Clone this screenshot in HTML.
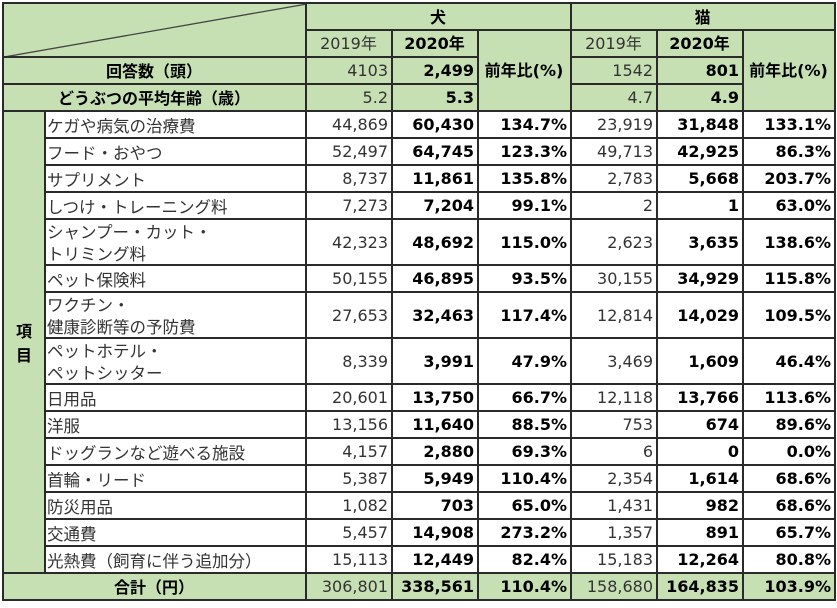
<!DOCTYPE html>
<html><head><meta charset="utf-8">
<style>
html,body{margin:0;padding:0;background:#fff;width:837px;height:608px;overflow:hidden}
table{position:absolute;left:2px;top:2px;border-collapse:collapse;table-layout:fixed;width:832px}
td{border:2px solid #2a2a2a;padding:0 3px 0 2px;font-family:"DejaVu Sans","Noto Sans CJK JP",sans-serif;font-size:16px;color:#333;text-align:right;white-space:nowrap;overflow:hidden;line-height:19px}
.g{background:#c6e0b4}
.w{background:#fff}
.b{font-weight:bold;color:#000}
.c{text-align:center}
.l{text-align:left;font-family:"Noto Sans CJK JP",sans-serif;font-size:16.5px;color:#333;padding-left:1px;line-height:22px}
.h{font-family:"Noto Sans CJK JP","DejaVu Sans",sans-serif;font-weight:bold;color:#000}
.r27{height:27px}
.r46{height:46px}
</style></head><body>
<table>
<colgroup><col style="width:42px"><col style="width:261px"><col style="width:86px"><col style="width:86px"><col style="width:93px"><col style="width:86px"><col style="width:86px"><col style="width:92px"></colgroup>
<tr class="r27"><td class="g" colspan="2" rowspan="2" style="padding:0;position:relative"><svg width="303" height="54" style="position:absolute;left:0;top:0"><line x1="0" y1="53" x2="303" y2="0" stroke="#444" stroke-width="1.3"/></svg></td><td class="g c h" colspan="3">犬</td><td class="g c h" colspan="3">猫</td></tr>
<tr class="r27"><td class="g c">2019年</td><td class="g c b">2020年</td><td class="g c b" rowspan="3">前年比(%)</td><td class="g c">2019年</td><td class="g c b">2020年</td><td class="g c b" rowspan="3">前年比(%)</td></tr>
<tr class="r27"><td class="g c h" colspan="2">回答数（頭）</td><td class="g">4103</td><td class="g b">2,499</td><td class="g">1542</td><td class="g b">801</td></tr>
<tr class="r27"><td class="g c h" colspan="2">どうぶつの平均年齢（歳）</td><td class="g">5.2</td><td class="g b">5.3</td><td class="g">4.7</td><td class="g b">4.9</td></tr>
<tr class="r27"><td class="g c h" rowspan="15" style="white-space:normal;line-height:24px;padding:0">項<br>目</td><td class="w l">ケガや病気の治療費</td><td class="w">44,869</td><td class="w b">60,430</td><td class="w b">134.7%</td><td class="w">23,919</td><td class="w b">31,848</td><td class="w b">133.1%</td></tr>
<tr class="r27"><td class="w l">フード・おやつ</td><td class="w">52,497</td><td class="w b">64,745</td><td class="w b">123.3%</td><td class="w">49,713</td><td class="w b">42,925</td><td class="w b">86.3%</td></tr>
<tr class="r27"><td class="w l">サプリメント</td><td class="w">8,737</td><td class="w b">11,861</td><td class="w b">135.8%</td><td class="w">2,783</td><td class="w b">5,668</td><td class="w b">203.7%</td></tr>
<tr class="r27"><td class="w l">しつけ・トレーニング料</td><td class="w">7,273</td><td class="w b">7,204</td><td class="w b">99.1%</td><td class="w">2</td><td class="w b">1</td><td class="w b">63.0%</td></tr>
<tr class="r46"><td class="w l">シャンプー・カット・<br>トリミング料</td><td class="w">42,323</td><td class="w b">48,692</td><td class="w b">115.0%</td><td class="w">2,623</td><td class="w b">3,635</td><td class="w b">138.6%</td></tr>
<tr class="r27"><td class="w l">ペット保険料</td><td class="w">50,155</td><td class="w b">46,895</td><td class="w b">93.5%</td><td class="w">30,155</td><td class="w b">34,929</td><td class="w b">115.8%</td></tr>
<tr class="r46"><td class="w l">ワクチン・<br>健康診断等の予防費</td><td class="w">27,653</td><td class="w b">32,463</td><td class="w b">117.4%</td><td class="w">12,814</td><td class="w b">14,029</td><td class="w b">109.5%</td></tr>
<tr class="r46"><td class="w l">ペットホテル・<br>ペットシッター</td><td class="w">8,339</td><td class="w b">3,991</td><td class="w b">47.9%</td><td class="w">3,469</td><td class="w b">1,609</td><td class="w b">46.4%</td></tr>
<tr class="r27"><td class="w l">日用品</td><td class="w">20,601</td><td class="w b">13,750</td><td class="w b">66.7%</td><td class="w">12,118</td><td class="w b">13,766</td><td class="w b">113.6%</td></tr>
<tr class="r27"><td class="w l">洋服</td><td class="w">13,156</td><td class="w b">11,640</td><td class="w b">88.5%</td><td class="w">753</td><td class="w b">674</td><td class="w b">89.6%</td></tr>
<tr class="r27"><td class="w l">ドッグランなど遊べる施設</td><td class="w">4,157</td><td class="w b">2,880</td><td class="w b">69.3%</td><td class="w">6</td><td class="w b">0</td><td class="w b">0.0%</td></tr>
<tr class="r27"><td class="w l">首輪・リード</td><td class="w">5,387</td><td class="w b">5,949</td><td class="w b">110.4%</td><td class="w">2,354</td><td class="w b">1,614</td><td class="w b">68.6%</td></tr>
<tr class="r27"><td class="w l">防災用品</td><td class="w">1,082</td><td class="w b">703</td><td class="w b">65.0%</td><td class="w">1,431</td><td class="w b">982</td><td class="w b">68.6%</td></tr>
<tr class="r27"><td class="w l">交通費</td><td class="w">5,457</td><td class="w b">14,908</td><td class="w b">273.2%</td><td class="w">1,357</td><td class="w b">891</td><td class="w b">65.7%</td></tr>
<tr class="r27"><td class="w l">光熱費（飼育に伴う追加分）</td><td class="w">15,113</td><td class="w b">12,449</td><td class="w b">82.4%</td><td class="w">15,183</td><td class="w b">12,264</td><td class="w b">80.8%</td></tr>
<tr class="r27"><td class="g c h" colspan="2">合計（円）</td><td class="g">306,801</td><td class="g b">338,561</td><td class="g b">110.4%</td><td class="g">158,680</td><td class="g b">164,835</td><td class="g b">103.9%</td></tr>
</table>
</body></html>
